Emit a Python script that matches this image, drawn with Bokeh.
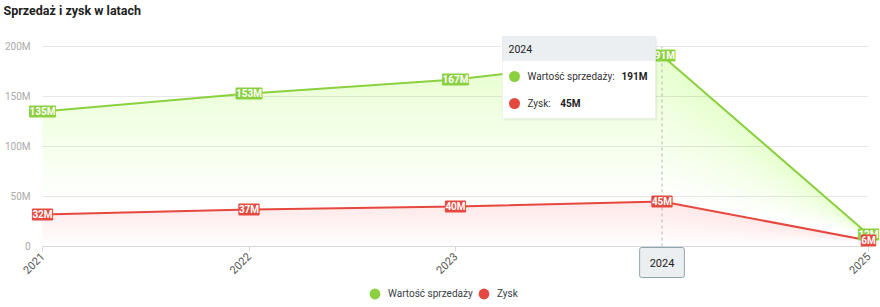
import numpy as np
from bokeh.plotting import figure
from bokeh.models import (ColumnDataSource, Range1d, FixedTicker, LabelSet, Label,
                          BoxAnnotation, Legend, LegendItem)
from bokeh.embed import file_html
from bokeh.resources import INLINE
from bokeh.core.properties import value

# ---------------- data ----------------
title = "Sprzedaż i zysk w latach"
years = [2021, 2022, 2023, 2024, 2025]
year_labels = ["2021", "2022", "2023", "2024", "2025"]
sales = [135, 153, 167, 191, 12]      # Wartość sprzedaży (M)
profit = [32, 37, 40, 45, 6]          # Zysk (M)
y_ticks = [0, 50, 100, 150, 200]
y_tick_labels = ["0", "50M", "100M", "150M", "200M"]
series_names = ["Wartość sprzedaży", "Zysk"]
hover_year = 2024

GREEN = "#8bd03f"
RED = "#e5483e"
RED_FILL = "#e64a58"
FONT = "Roboto"

# ---------------- layout helpers (frame == whole canvas) ----------------
W, H = 880, 307
PPX = 206.5          # pixels per year
LEFT_PAD, RIGHT_PAD = 42, 12
ZERO_PY = 246        # pixel row of value 0
XS = years[0] - LEFT_PAD / PPX
XE = years[-1] + RIGHT_PAD / PPX
YS, YE = ZERO_PY - H, ZERO_PY


def px_x(px):
    return XS + px / PPX


def px_y(py):
    return ZERO_PY - py


p = figure(width=W, height=H, output_backend="svg", toolbar_location=None,
           x_range=Range1d(XS, XE), y_range=Range1d(YS, YE),
           min_border=0, background_fill_color="white", title=None,
           border_fill_color="white", outline_line_color=None)

# grid lines (only over the data span)
p.xgrid.visible = False
p.ygrid.visible = False
p.segment(x0=[years[0]] * len(y_ticks), y0=y_ticks, x1=[years[-1]] * len(y_ticks),
          y1=y_ticks, line_color="#e8e8e8", line_width=1)

# axes drawn at fixed data locations
p.yaxis.fixed_location = years[0]
p.yaxis.ticker = FixedTicker(ticks=y_ticks)
p.yaxis.major_label_overrides = {t: l for t, l in zip(y_ticks, y_tick_labels)}
p.yaxis.axis_line_color = None
p.yaxis.major_tick_line_color = None
p.yaxis.minor_tick_line_color = None
p.yaxis.major_label_text_color = "#aaaaaa"
p.yaxis.major_label_text_font = FONT
p.yaxis.major_label_text_font_size = "10px"
p.yaxis.major_label_standoff = 6

p.xaxis.fixed_location = 0
p.xaxis.bounds = (years[0], years[-1])
p.xaxis.ticker = FixedTicker(ticks=years)
p.xaxis.major_label_overrides = {y: l for y, l in zip(years, year_labels)}
p.xaxis.major_label_orientation = np.pi / 4
p.xaxis.axis_line_color = "#d8d8d8"
p.xaxis.major_tick_line_color = "#d8d8d8"
p.xaxis.major_tick_out = 5
p.xaxis.major_tick_in = 0
p.xaxis.minor_tick_line_color = None
p.xaxis.major_label_text_color = "#555555"
p.xaxis.major_label_text_font = FONT
p.xaxis.major_label_text_font_size = "11px"
p.xaxis.major_label_standoff = 3

# title
p.add_layout(Label(x=px_x(3), y=px_y(10), text=title, text_baseline="middle",
                   text_font=FONT, text_font_size="12.5px", text_font_style="bold",
                   text_color="#222222"))

# gradient-like area fills
for s, col, amax, start in ((sales, GREEN, 0.22, 0.25), (profit, RED_FILL, 0.19, 0.0)):
    arr = np.array(s, dtype=float)
    n = 24
    for lv in np.linspace(start * arr.max(), arr.max(), n, endpoint=False):
        p.varea(x=years, y1=np.minimum(arr, lv), y2=arr,
                fill_color=col, fill_alpha=amax / n)

# crosshair
p.segment(x0=[hover_year], y0=[0], x1=[hover_year], y1=[y_ticks[-1]],
          line_color="#b5b5b5", line_dash="3 3", line_width=1)

# lines
p.line(years, sales, line_color=GREEN, line_width=2)
p.line(years, profit, line_color=RED, line_width=2)

# data labels
for s, col in ((sales, GREEN), (profit, RED)):
    src = ColumnDataSource(dict(x=years, y=s, t=[f"{v}M" for v in s]))
    ls = LabelSet(x="x", y="y", text="t", source=src, text_align="center",
                  text_baseline="middle", text_color="white",
                  text_font=value(FONT), text_font_style="bold",
                  text_font_size="10px", background_fill_color=col,
                  border_line_color=col, border_line_width=1)
    for k, v in (("padding", (4, 1)), ("border_radius", 2)):
        try:
            setattr(ls, k, v)
        except Exception:
            pass
    p.add_layout(ls)

# tooltip (static, hovered year)
tl, tr = px_x(502), px_x(655)
ttop, tbot, thead = px_y(36), px_y(118), px_y(60)
p.add_layout(BoxAnnotation(left=px_x(504), right=px_x(657), top=px_y(38), bottom=px_y(120),
                           fill_color="#000000", fill_alpha=0.05, line_color=None))
p.add_layout(BoxAnnotation(left=tl, right=tr, top=ttop, bottom=tbot,
                           fill_color="white", fill_alpha=1.0, line_color="#dddddd"))
p.add_layout(BoxAnnotation(left=tl, right=tr, top=ttop, bottom=thead,
                           fill_color="#eceff1", fill_alpha=1.0, line_color="#dddddd"))
hi = years.index(hover_year)
p.add_layout(Label(x=px_x(508), y=px_y(48), text=str(hover_year),
                   text_baseline="middle", text_font=FONT, text_font_size="10.5px",
                   text_color="#222222"))
rows_py = [76, 103]
vals = [sales[hi], profit[hi]]
value_right_px = [647, 580]
for name, col, ry, v, vr in zip(series_names, (GREEN, RED), rows_py, vals, value_right_px):
    p.scatter(x=[px_x(514)], y=[px_y(ry)], size=11, fill_color=col, line_color=None,
              level="overlay")
    p.add_layout(Label(x=px_x(527), y=px_y(ry), text=f"{name}:", text_baseline="middle",
                       text_font=FONT, text_font_size="10px", text_color="#333333"))
    p.add_layout(Label(x=px_x(vr), y=px_y(ry), text=f"{v}M", text_baseline="middle",
                       text_align="right", text_font=FONT, text_font_size="10px",
                       text_font_style="bold", text_color="#222222"))

# x crosshair label
xl = Label(x=hover_year, y=0, y_offset=-16, text=str(hover_year), text_align="center",
           text_baseline="middle", text_font=FONT, text_font_size="11px",
           text_color="#222222", background_fill_color="#eceff1",
           border_line_color="#90a4ae", border_line_width=1)
for k, v in (("padding", (10, 11)), ("border_radius", 2)):
    try:
        setattr(xl, k, v)
    except Exception:
        pass
p.add_layout(xl)

# legend: one single-item legend per series so each swatch sits where it should
legend_left_px = [361, 470]
for name, col, lx in zip(series_names, (GREEN, RED), legend_left_px):
    r = p.scatter(x=[hover_year], y=[YS - 1000], size=11, fill_color=col, line_color=None)
    lg = Legend(items=[LegendItem(label=name, renderers=[r])],
                orientation="horizontal", location=(lx, 0),
                border_line_color=None, background_fill_alpha=0,
                label_text_font=FONT, label_text_font_size="10px",
                label_text_color="#373d3f", glyph_width=27, glyph_height=27,
                label_standoff=0, spacing=0, padding=0, margin=0)
    p.add_layout(lg)

open("out.html", "w").write(file_html(p, INLINE))
